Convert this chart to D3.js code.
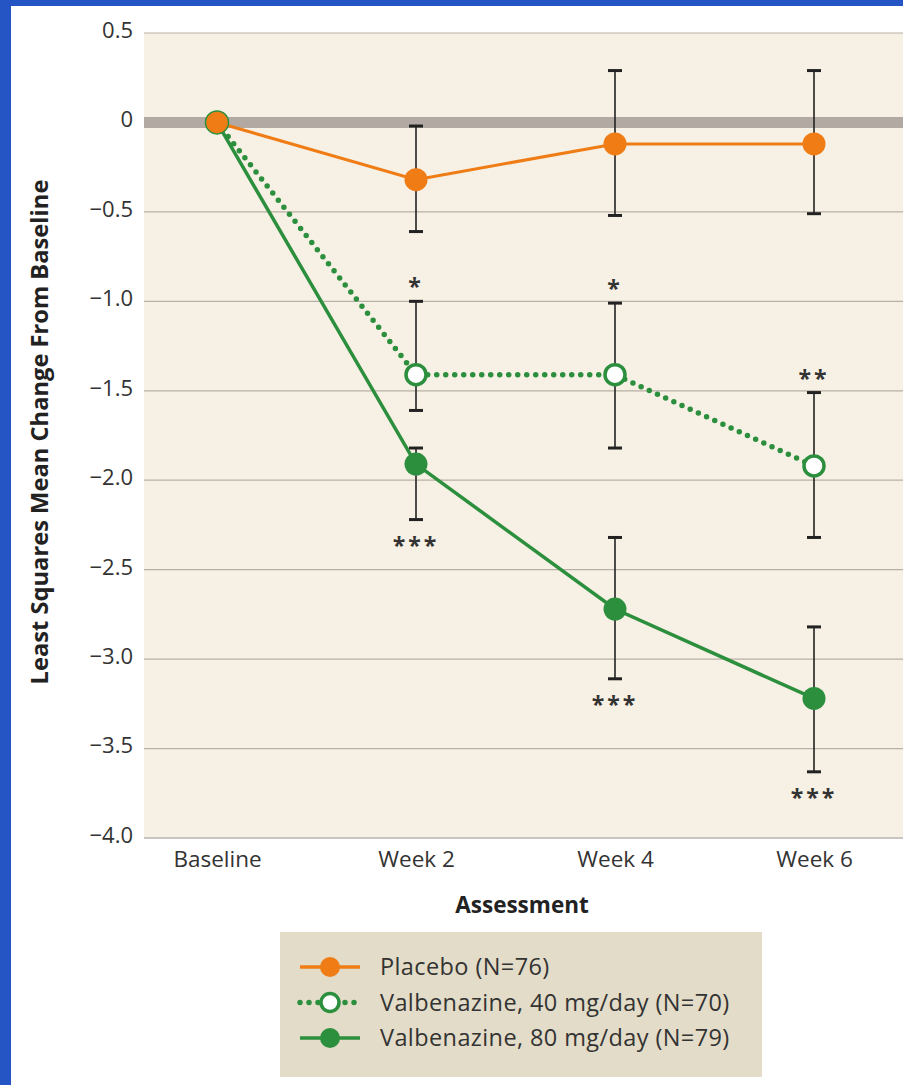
<!DOCTYPE html>
<html lang="en">
<head>
  <meta charset="UTF-8">
  <script src="https://d3js.org/d3.v7.min.js"></script>
  <title>Valbenazine LS mean change</title>
  <style>
    body { margin: 0; background: #2555c4; }
    #wrapper { width: 903px; height: 1085px; }
  </style>
</head>
<body>
  <div id="wrapper"></div>
  <script>
    // data
    const assessments = ["Baseline", "Week 2", "Week 4", "Week 6"]
    const yTicks = [0.5, 0, -0.5, -1.0, -1.5, -2.0, -2.5, -3.0, -3.5, -4.0]

    const placeboMean = [0, -0.32, -0.12, -0.12]
    const placeboLow = [null, -0.61, -0.52, -0.51]
    const placeboHigh = [null, -0.02, 0.29, 0.29]

    const val40Mean = [0, -1.41, -1.41, -1.92]
    const val40Low = [null, -1.61, -1.82, -2.32]
    const val40High = [null, -1.00, -1.01, -1.51]

    const val80Mean = [0, -1.91, -2.72, -3.22]
    const val80Low = [null, -2.22, -3.11, -3.63]
    const val80High = [null, -1.82, -2.32, -2.82]

    const starsAbove40 = ["", "*", "*", "**"]
    const starsBelow80 = ["", "***", "***", "***"]

    const seriesNames = ["Placebo (N=76)", "Valbenazine, 40 mg/day (N=70)", "Valbenazine, 80 mg/day (N=79)"]

    const orange = "#ef7c15"
    const green = "#2c8f3d"
    const font = "'Open Sans', sans-serif"

    const dimensions = {
      width: 903,
      height: 1085,
      margin: { top: 33, left: 144, right: 0, bottom: 247 }
    }
    dimensions.boundedWidth = dimensions.width - dimensions.margin.left - dimensions.margin.right
    dimensions.boundedHeight = dimensions.height - dimensions.margin.top - dimensions.margin.bottom

    const svg = d3.select("#wrapper")
        .append("svg")
        .attr("width", dimensions.width)
        .attr("height", dimensions.height)
        .style("font-family", font)

    // white page inside the blue frame
    svg.append("rect")
        .attr("x", 11).attr("y", 6)
        .attr("width", dimensions.width).attr("height", dimensions.height)
        .attr("fill", "#ffffff")

    const bounds = svg.append("g")
        .attr("transform", `translate(${dimensions.margin.left},${dimensions.margin.top})`)

    bounds.append("rect")
        .attr("width", dimensions.boundedWidth)
        .attr("height", dimensions.boundedHeight)
        .attr("fill", "#f7f0e4")

    const xScale = d3.scalePoint()
        .domain(assessments)
        .range([73, 670])

    const yScale = d3.scaleLinear()
        .domain([0.5, -4.0])
        .range([0, dimensions.boundedHeight])

    // grid lines
    bounds.append("g")
        .selectAll("line")
        .data(yTicks.filter(d => d !== 0))
        .enter()
        .append("line")
        .attr("x1", 0)
        .attr("x2", dimensions.boundedWidth)
        .attr("y1", d => yScale(d))
        .attr("y2", d => yScale(d))
        .attr("stroke", d => d === -4.0 ? "#c9c5c0" : "#b8b0a6")
        .attr("stroke-width", d => d === -4.0 ? 2 : 1.2)

    // thick zero band
    bounds.append("line")
        .attr("x1", 0)
        .attr("x2", dimensions.boundedWidth)
        .attr("y1", yScale(0))
        .attr("y2", yScale(0))
        .attr("stroke", "#b2aaa2")
        .attr("stroke-width", 11)

    /* Axes */
    const yAxis = bounds.append("g")
        .call(d3.axisLeft(yScale)
          .tickValues(yTicks)
          .tickSize(0)
          .tickPadding(11)
          .tickFormat(d => d === 0 ? "0" : d3.format(".1f")(d).replace("-", "\u2212")))
    yAxis.select(".domain").remove()
    yAxis.selectAll("text")
        .attr("font-family", font)
        .attr("font-size", 22)
        .attr("fill", "#333")
        .attr("dy", "0.2em")

    const xAxis = bounds.append("g")
        .attr("transform", `translate(0,${dimensions.boundedHeight})`)
        .call(d3.axisBottom(xScale).tickSize(0).tickPadding(13))
    xAxis.select(".domain").remove()
    xAxis.selectAll("text")
        .attr("font-family", font)
        .attr("font-size", 22.5)
        .attr("fill", "#333")

    bounds.append("text")
        .attr("x", 378)
        .attr("y", dimensions.boundedHeight + 75)
        .attr("text-anchor", "middle")
        .attr("font-size", 22.5)
        .attr("font-weight", "bold")
        .attr("fill", "#222")
        .text("Assessment")

    svg.append("text")
        .attr("transform", `translate(48,432) rotate(-90)`)
        .attr("text-anchor", "middle")
        .attr("font-size", 23.7)
        .attr("font-weight", "bold")
        .attr("fill", "#222")
        .text("Least Squares Mean Change From Baseline")

    // error bars
    const errorData = []
    assessments.forEach((a, i) => {
      if (placeboLow[i] !== null) {
        errorData.push({ a, lo: placeboLow[i], hi: placeboHigh[i] })
        errorData.push({ a, lo: val40Low[i], hi: val40High[i] })
        errorData.push({ a, lo: val80Low[i], hi: val80High[i] })
      }
    })
    const errGroups = bounds.append("g")
        .selectAll("g")
        .data(errorData)
        .enter()
        .append("g")
    errGroups.append("line")
        .attr("x1", d => xScale(d.a)).attr("x2", d => xScale(d.a))
        .attr("y1", d => yScale(d.hi)).attr("y2", d => yScale(d.lo))
        .attr("stroke", "#222").attr("stroke-width", 1.6)
    errGroups.selectAll(".cap")
        .data(d => [{ a: d.a, v: d.hi }, { a: d.a, v: d.lo }])
        .enter()
        .append("line")
        .attr("class", "cap")
        .attr("x1", d => xScale(d.a) - 7).attr("x2", d => xScale(d.a) + 7)
        .attr("y1", d => yScale(d.v)).attr("y2", d => yScale(d.v))
        .attr("stroke", "#222").attr("stroke-width", 3)

    const line = d3.line()
        .x((d, i) => xScale(assessments[i]))
        .y(d => yScale(d))

    // 80 mg solid
    bounds.append("path")
        .attr("d", line(val80Mean))
        .attr("fill", "none").attr("stroke", green).attr("stroke-width", 3.5)
    // 40 mg dotted
    bounds.append("path")
        .attr("d", line(val40Mean))
        .attr("fill", "none").attr("stroke", green).attr("stroke-width", 5.5)
        .attr("stroke-linecap", "round")
        .attr("stroke-dasharray", "0 9")
    // placebo
    bounds.append("path")
        .attr("d", line(placeboMean))
        .attr("fill", "none").attr("stroke", orange).attr("stroke-width", 3)

    // markers
    bounds.append("g").selectAll("circle")
        .data(val80Mean.slice(1))
        .enter().append("circle")
        .attr("cx", (d, i) => xScale(assessments[i + 1]))
        .attr("cy", d => yScale(d))
        .attr("r", 11.5).attr("fill", green)

    bounds.append("g").selectAll("circle")
        .data(val40Mean.slice(1))
        .enter().append("circle")
        .attr("cx", (d, i) => xScale(assessments[i + 1]))
        .attr("cy", d => yScale(d))
        .attr("r", 10).attr("fill", "#fff")
        .attr("stroke", green).attr("stroke-width", 3.5)

    bounds.append("g").selectAll("circle")
        .data(placeboMean)
        .enter().append("circle")
        .attr("cx", (d, i) => xScale(assessments[i]))
        .attr("cy", d => yScale(d))
        .attr("r", 11.5).attr("fill", orange)
        .attr("stroke", (d, i) => i === 0 ? green : "none")
        .attr("stroke-width", 1.5)

    // significance stars
    bounds.append("g").selectAll("text")
        .data(starsAbove40)
        .enter().append("text")
        .attr("x", (d, i) => xScale(assessments[i]))
        .attr("y", (d, i) => yScale(val40High[i] || 0) - 6)
        .attr("text-anchor", "middle")
        .attr("font-size", 23).attr("font-weight", "bold").attr("fill", "#333")
        .attr("letter-spacing", 3)
        .text(d => d)

    bounds.append("g").selectAll("text")
        .data(starsBelow80)
        .enter().append("text")
        .attr("x", (d, i) => xScale(assessments[i]))
        .attr("y", (d, i) => yScale(val80Low[i] || 0) + 34)
        .attr("text-anchor", "middle")
        .attr("font-size", 23).attr("font-weight", "bold").attr("fill", "#333")
        .attr("letter-spacing", 3)
        .text(d => d)

    // legend
    const legend = svg.append("g").attr("transform", "translate(280,932)")
    legend.append("rect")
        .attr("width", 482).attr("height", 145)
        .attr("fill", "#e3dcc8")
    const rows = legend.selectAll("g")
        .data(seriesNames)
        .enter().append("g")
        .attr("transform", (d, i) => `translate(0,${35 + i * 35.5})`)
    rows.append("line")
        .attr("x1", 20).attr("x2", 80)
        .attr("stroke", (d, i) => i === 0 ? orange : green)
        .attr("stroke-width", (d, i) => i === 1 ? 5.5 : 3.5)
        .attr("stroke-linecap", (d, i) => i === 1 ? "round" : "butt")
        .attr("stroke-dasharray", (d, i) => i === 1 ? "0 9" : null)
    rows.append("circle")
        .attr("cx", 50).attr("r", (d, i) => i === 1 ? 9 : 10)
        .attr("fill", (d, i) => i === 0 ? orange : i === 1 ? "#fff" : green)
        .attr("stroke", (d, i) => i === 1 ? green : "none")
        .attr("stroke-width", 3.5)
    rows.append("text")
        .attr("x", 100).attr("dy", "0.35em")
        .attr("font-size", 23.5).attr("fill", "#333")
        .attr("letter-spacing", 0.4)
        .text(d => d)
  </script>
</body>
</html>
